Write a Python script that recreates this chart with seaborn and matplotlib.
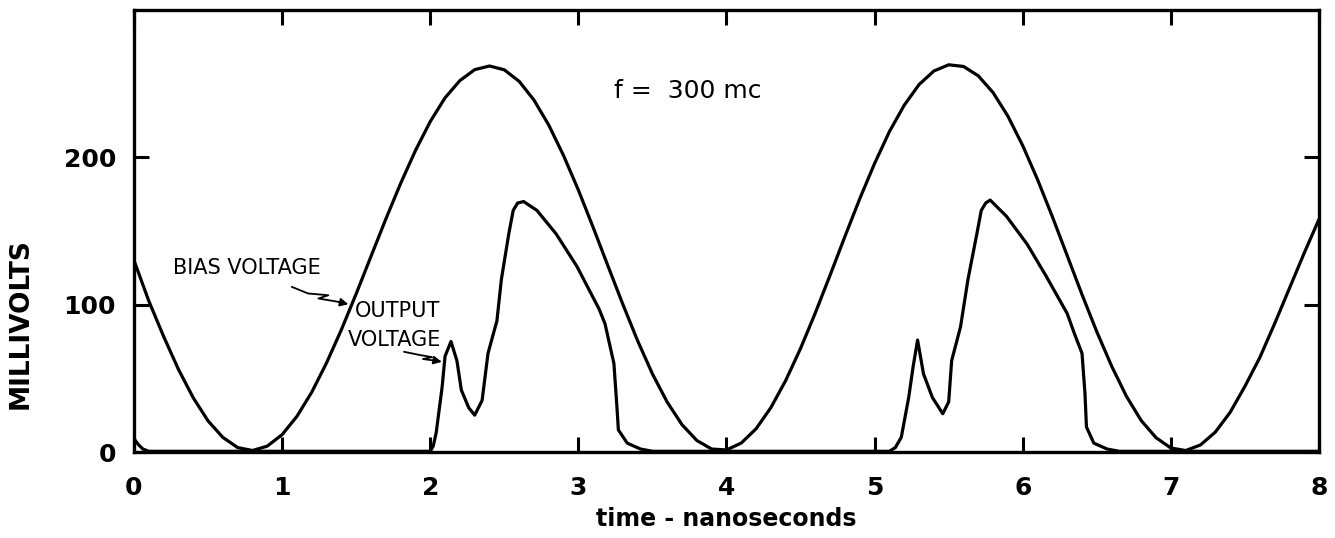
import numpy as np
import pandas as pd
import matplotlib
matplotlib.use("Agg")
import matplotlib.pyplot as plt
import seaborn as sns

# ---- data ----
bias_time = np.round(np.arange(0, 8.01, 0.1), 2)
bias_mv = [130, 102.5, 78.4, 56.1, 36.8, 21.1, 9.9, 3.0, 1.0, 4.0,
           11.8, 24.2, 40.6, 60.5, 83.0, 107.4, 132.8, 158.1, 182.3, 204.6,
           224.3, 240.4, 252.1, 259.5, 262.0, 259.4, 251.6, 238.9, 221.9, 201.2,
           177.8, 152.4, 126.2, 100.3, 75.5, 53.0, 33.8, 18.5, 7.8, 2.0,
           1.4, 6.1, 15.8, 30.2, 48.6, 70.3, 94.5, 120.2, 146.4, 172.0,
           195.9, 217.5, 235.4, 249.4, 258.6, 262.8, 261.7, 255.3, 243.9, 227.9,
           207.9, 184.9, 159.7, 133.3, 106.9, 81.6, 58.3, 37.8, 21.3, 9.7,
           2.7, 1.0, 4.8, 13.5, 26.9, 44.6, 64, 87, 111, 135, 158]

out_time = [0.00, 0.03, 0.06, 0.10,
            2.00, 2.02, 2.04, 2.08, 2.10, 2.14, 2.18, 2.21, 2.26, 2.30,
            2.35, 2.39, 2.45, 2.48, 2.53, 2.56, 2.59, 2.63, 2.72, 2.85, 2.99,
            3.14, 3.18, 3.24, 3.26, 3.27, 3.33, 3.42, 3.50,
            5.10, 5.14, 5.18, 5.23, 5.26, 5.29, 5.33, 5.39, 5.46, 5.50,
            5.52, 5.58, 5.63, 5.69, 5.72, 5.75, 5.78, 5.89, 6.03, 6.16, 6.30,
            6.35, 6.40, 6.42, 6.43, 6.48, 6.57, 6.65, 8.00]
out_mv = [9, 5, 2, 0.5,
          0.5, 4, 13, 44, 65, 75, 62, 42, 30, 25,
          35, 67, 89, 117, 148, 164, 169, 170, 164, 148, 126,
          97, 87, 60, 31, 15, 6, 2, 0.5,
          0.5, 3, 10, 37, 58, 76, 53, 37, 26, 34,
          62, 85, 117, 148, 164, 169, 171, 160, 141, 119, 94,
          80, 67, 40, 17, 6, 2, 0.5, 0.5]

x_ticks = [0, 1, 2, 3, 4, 5, 6, 7, 8]
x_ticklabels = ["0", "1", "2", "3", "4", "5", "6", "7", "8"]
y_ticks = [0, 100, 200]
y_ticklabels = ["0", "100", "200"]

# squiggly arrow paths (data coords)
bias_arrow_x = [1.065, 1.175, 1.312, 1.245, 1.380, 1.447]
bias_arrow_y = [112.1, 107.6, 106.4, 104.2, 101.9, 100.3]
out_arrow_x = [1.823, 1.931, 2.012, 1.951, 2.053, 2.078]
out_arrow_y = [68.0, 65.8, 64.4, 63.1, 61.7, 61.2]

bias_df = pd.DataFrame({"time": bias_time, "mv": bias_mv})
out_df = pd.DataFrame({"time": out_time, "mv": out_mv})

sns.set_theme(style="ticks")
plt.rcParams["font.family"] = ["DejaVu Sans"]
plt.rcParams["text.color"] = "black"
plt.rcParams["axes.labelcolor"] = "black"
plt.rcParams["lines.solid_joinstyle"] = "round"
plt.rcParams["lines.solid_capstyle"] = "round"

fig = plt.figure(figsize=(13.35, 5.38), dpi=100)
ax = fig.add_axes([134 / 1335, 86 / 538, 1185 / 1335, 442 / 538])

lw = 2.3
sns.lineplot(data=bias_df, x="time", y="mv", ax=ax, color="black", lw=lw,
             sort=False, estimator=None)
sns.lineplot(data=out_df, x="time", y="mv", ax=ax, color="black", lw=lw,
             sort=False, estimator=None)

ax.set_xlim(0, 8)
ax.set_ylim(0, 300)
ax.set_xticks(x_ticks)
ax.set_xticklabels(x_ticklabels)
ax.set_yticks(y_ticks)
ax.set_yticklabels(y_ticklabels)
ax.tick_params(axis="both", direction="in", length=11, width=2.2,
               top=True, right=True, labelsize=18, colors="black")
ax.tick_params(axis="x", pad=17)
ax.tick_params(axis="y", pad=13)
for lab in ax.get_xticklabels() + ax.get_yticklabels():
    lab.set_fontweight("bold")

for sp in ax.spines.values():
    sp.set_linewidth(2.4)
    sp.set_color("black")

ax.set_xlabel("time - nanoseconds", fontsize=17, fontweight="bold", color="black")
ax.xaxis.set_label_coords(0.5, -0.125)
ax.set_ylabel("MILLIVOLTS", fontsize=19, fontweight="bold", color="black")
ax.yaxis.set_label_coords(-0.085, 0.29)

ax.text(3.74, 245, "f =  300 mc", fontsize=18, ha="center", va="center", color="black")
ax.text(0.26, 125, "BIAS VOLTAGE", fontsize=15, ha="left", va="center", color="black")
ax.text(1.49, 96, "OUTPUT", fontsize=15, ha="left", va="center", color="black")
ax.text(1.445, 76, "VOLTAGE", fontsize=15, ha="left", va="center", color="black")

for xs, ys in [(bias_arrow_x, bias_arrow_y), (out_arrow_x, out_arrow_y)]:
    ax.plot(xs[:-1], ys[:-1], color="black", lw=1.3)
    ax.annotate("", xy=(xs[-1], ys[-1]), xytext=(xs[-2], ys[-2]),
                arrowprops=dict(arrowstyle="-|>", color="black", lw=1.3,
                                mutation_scale=12, shrinkA=0, shrinkB=0))

fig.savefig("out.png", dpi=100)
